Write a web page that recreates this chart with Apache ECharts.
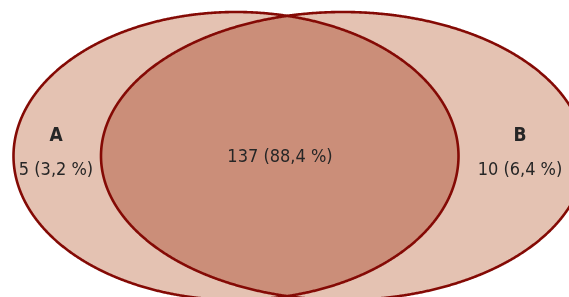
<!DOCTYPE html>
<html>
<head>
<meta charset="utf-8">
<script src="https://cdn.jsdelivr.net/npm/echarts@6/dist/echarts.min.js"></script>
<style>
html,body{margin:0;padding:0;background:#fff;}
#c{width:569px;height:297px;}
</style>
</head>
<body>
<div id="c"></div>
<script>
// ---- data ----
const setNames = ['A', 'B'];
const onlyCounts = [5, 10];
const onlyPercents = ['3,2', '6,4'];
const overlapCount = [137];
const overlapPercent = ['88,4'];

// ---- layout (drawing units match pixels) ----
const layout = {
  cy: 156, ry: 144,
  cx: [236, 343],
  rx: [222.5, 242],
  labelX: [56, 520],
  nameY: 136, valueY: 170,
  midX: 280, midY: 157
};
const style = {
  light: '#e4c2b2', dark: '#cb8e79', stroke: '#840a05', text: '#262626',
  font: '"Liberation Sans Narrow", "DejaVu Sans Condensed", sans-serif'
};

function ellipsePts(api, i, t0, t1, filterOther) {
  const pts = [];
  const N = 1440;
  const j = 1 - i;
  for (let k = 0; k <= N; k++) {
    const t = t0 + (t1 - t0) * k / N;
    const x = layout.cx[i] + layout.rx[i] * Math.cos(t);
    const y = layout.cy + layout.ry * Math.sin(t);
    if (filterOther) {
      const dx = (x - layout.cx[j]) / layout.rx[j];
      const dy = (y - layout.cy) / layout.ry;
      if (dx * dx + dy * dy > 1) continue;
    }
    pts.push(api.coord([x, y]));
  }
  return pts;
}

const chart = echarts.init(document.getElementById('c'), null, {renderer: 'canvas'});
chart.setOption({
  animation: false,
  grid: {left: 0, right: 0, top: 0, bottom: 0},
  xAxis: {type: 'value', min: 0, max: 569, show: false},
  yAxis: {type: 'value', min: 0, max: 297, inverse: true, show: false},
  series: [{
    type: 'custom',
    coordinateSystem: 'cartesian2d',
    clip: false,
    data: [[0, 0]],
    renderItem: function (params, api) {
      const children = [];
      for (let i = 0; i < 2; i++) {
        children.push({type: 'polygon', shape: {points: ellipsePts(api, i, 0, Math.PI * 2, false)},
          style: {fill: style.light, stroke: null}});
      }
      const lens = ellipsePts(api, 0, -Math.PI / 2, Math.PI / 2, true)
        .concat(ellipsePts(api, 1, Math.PI / 2, Math.PI * 1.5, true));
      children.push({type: 'polygon', shape: {points: lens}, style: {fill: style.dark, stroke: null}});
      for (let i = 0; i < 2; i++) {
        children.push({type: 'polygon', shape: {points: ellipsePts(api, i, 0, Math.PI * 2, false)},
          style: {fill: null, stroke: style.stroke, lineWidth: 2.6}});
      }
      for (let i = 0; i < 2; i++) {
        const pn = api.coord([layout.labelX[i], layout.nameY]);
        children.push({type: 'text', x: pn[0], y: pn[1], style: {
          text: setNames[i], fill: style.text, font: 'bold 19px ' + style.font,
          align: 'center', verticalAlign: 'middle'}});
        const pv = api.coord([layout.labelX[i], layout.valueY]);
        children.push({type: 'text', x: pv[0], y: pv[1], style: {
          text: onlyCounts[i] + ' (' + onlyPercents[i] + ' %)', fill: style.text, font: '18px ' + style.font,
          align: 'center', verticalAlign: 'middle'}});
      }
      const pm = api.coord([layout.midX, layout.midY]);
      children.push({type: 'text', x: pm[0], y: pm[1], style: {
        text: overlapCount[0] + ' (' + overlapPercent[0] + ' %)', fill: style.text, font: '18px ' + style.font,
        align: 'center', verticalAlign: 'middle'}});
      return {type: 'group', children: children};
    }
  }]
});
</script>
</body>
</html>
